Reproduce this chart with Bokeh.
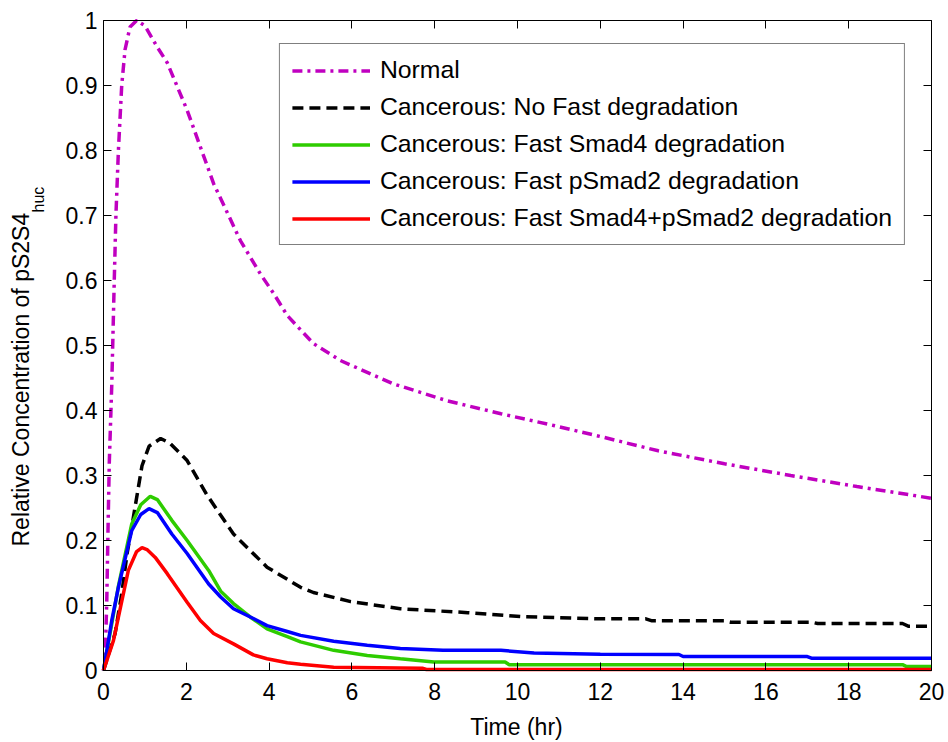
from math import pi
from bokeh.plotting import figure
from bokeh.models import Range1d, LinearAxis, FixedTicker, Legend, LegendItem, Label
from bokeh.embed import file_html
from bokeh.resources import INLINE

# ---------------- data ----------------
x_ticks = [0, 2, 4, 6, 8, 10, 12, 14, 16, 18, 20]
y_ticks = [0.0, 0.1, 0.2, 0.3, 0.4, 0.5, 0.6, 0.7, 0.8, 0.9, 1.0]
y_tick_labels = ["0", "0.1", "0.2", "0.3", "0.4", "0.5", "0.6", "0.7", "0.8", "0.9", "1"]

x_title = "Time (hr)"
y_title = "Relative Concentration of pS2S4"
y_title_sub = "huc"

series_names = [
    "Normal",
    "Cancerous: No Fast degradation",
    "Cancerous: Fast Smad4 degradation",
    "Cancerous: Fast pSmad2 degradation",
    "Cancerous: Fast Smad4+pSmad2 degradation",
]

t_normal = [0, 0.04, 0.08, 0.11, 0.14, 0.2, 0.26, 0.3, 0.36, 0.44, 0.52, 0.64, 0.8, 1.0,
            1.29, 1.54, 2.02, 2.66, 3.31, 3.79, 4.11, 4.44, 5.07, 5.72, 7.0, 8.3, 9.6,
            10.87, 12.0, 13.4, 15.0, 16.6, 18.2, 20.0]
y_normal = [0, 0.015, 0.11, 0.22, 0.32, 0.44, 0.6, 0.7, 0.8, 0.9, 0.955, 0.99, 1.0, 0.992,
            0.96, 0.935, 0.862, 0.749, 0.661, 0.61, 0.58, 0.546, 0.503, 0.477, 0.441, 0.415, 0.395,
            0.377, 0.36, 0.338, 0.318, 0.3, 0.283, 0.265]

t_nofast = [0, 0.28, 0.44, 0.57, 0.68, 0.93, 1.1, 1.38, 1.6, 2.02, 2.5, 3.14, 3.95, 4.76,
            5.07, 5.97, 7.17, 8.8, 10.07, 12.0, 13.1, 13.25, 15.0, 15.15, 17.1, 17.25,
            19.3, 19.45, 20.0]
y_nofast = [0, 0.057, 0.118, 0.18, 0.22, 0.315, 0.345, 0.357, 0.35, 0.323, 0.27, 0.21, 0.159, 0.128,
            0.12, 0.106, 0.095, 0.089, 0.083, 0.0795, 0.0795, 0.0764, 0.0764, 0.0743, 0.0743, 0.0723,
            0.0723, 0.068, 0.068]

t_smad4 = [0, 0.2, 0.36, 0.68, 0.9, 1.13, 1.3, 1.65, 2.02, 2.54, 2.83, 3.14, 3.55, 3.95, 4.44,
           4.76, 5.56, 6.37, 7.17, 7.98, 9.7, 9.8, 19.3, 19.4, 20.0]
y_smad4 = [0, 0.072, 0.13, 0.225, 0.255, 0.268, 0.263, 0.231, 0.2, 0.154, 0.122, 0.103, 0.082, 0.064, 0.052,
           0.044, 0.031, 0.023, 0.018, 0.013, 0.013, 0.009, 0.009, 0.006, 0.006]

t_psmad2 = [0, 0.2, 0.36, 0.68, 0.9, 1.1, 1.3, 1.65, 2.02, 2.54, 2.83, 3.14, 3.62, 3.95, 4.44,
            4.76, 5.56, 6.37, 7.17, 8.2, 9.6, 10.4, 12.0, 13.9, 14.0, 17.0, 17.1, 20.0]
y_psmad2 = [0, 0.077, 0.128, 0.215, 0.24, 0.249, 0.243, 0.21, 0.18, 0.133, 0.113, 0.095, 0.08, 0.069, 0.06,
            0.054, 0.045, 0.039, 0.034, 0.031, 0.031, 0.027, 0.025, 0.0246, 0.0215, 0.0215, 0.019, 0.019]

t_both = [0, 0.24, 0.36, 0.6, 0.8, 0.93, 1.05, 1.25, 1.54, 2.02, 2.34, 2.66, 3.14, 3.62, 3.95,
          4.44, 4.76, 5.56, 7.7, 7.8, 20.0]
y_both = [0, 0.046, 0.082, 0.154, 0.183, 0.189, 0.186, 0.174, 0.149, 0.105, 0.077, 0.057, 0.041, 0.024, 0.018,
          0.012, 0.0095, 0.005, 0.0036, 0.0015, 0.0015]

FONT = "Liberation Sans"
W, H = 948, 742
# axes box inside the canvas (pixels): left, right, top, bottom
BL, BR, BT, BB = 103, 931, 20, 670
sx = (BR - BL) / (x_ticks[-1] - x_ticks[0])
sy = (BB - BT) / (y_ticks[-1] - y_ticks[0])

p = figure(width=W, height=H, output_backend="svg", toolbar_location=None,
           x_range=Range1d(x_ticks[0] - BL / sx, x_ticks[-1] + (W - BR) / sx),
           y_range=Range1d(y_ticks[0] - (H - BB) / sy, y_ticks[-1] + BT / sy),
           min_border_left=0, min_border_right=0, min_border_top=0, min_border_bottom=0)
p.background_fill_color = "white"
p.border_fill_color = "white"
p.grid.visible = False
p.outline_line_color = None


def style_axis(ax):
    ax.major_tick_in = 8
    ax.major_tick_out = 0
    ax.minor_tick_in = 0
    ax.minor_tick_out = 0
    ax.axis_line_color = "black"
    ax.axis_line_width = 1
    ax.major_tick_line_color = "black"
    ax.major_tick_line_width = 1
    ax.major_label_text_font = FONT
    ax.major_label_text_font_size = "23px"
    ax.major_label_text_color = "black"


xa = p.xaxis[0]
xa.ticker = FixedTicker(ticks=x_ticks)
xa.fixed_location = y_ticks[0]
xa.bounds = (x_ticks[0], x_ticks[-1])
style_axis(xa)
xa.major_label_standoff = 12

ya = p.yaxis[0]
ya.ticker = FixedTicker(ticks=y_ticks)
ya.major_label_overrides = {t: l for t, l in zip(y_ticks, y_tick_labels)}
ya.fixed_location = x_ticks[0]
ya.bounds = (y_ticks[0], y_ticks[-1])
style_axis(ya)
ya.major_label_standoff = 6

# mirrored tick axes (top / right), no labels
top = LinearAxis(ticker=FixedTicker(ticks=x_ticks), fixed_location=y_ticks[-1],
                 bounds=(x_ticks[0], x_ticks[-1]),
                 major_label_overrides={t: "" for t in x_ticks})
style_axis(top)
top.major_label_text_font_size = "0px"
p.add_layout(top, "above")
right = LinearAxis(ticker=FixedTicker(ticks=y_ticks), fixed_location=x_ticks[-1],
                   bounds=(y_ticks[0], y_ticks[-1]),
                   major_label_overrides={t: "" for t in y_ticks})
style_axis(right)
right.major_label_text_font_size = "0px"
p.add_layout(right, "right")

# curves
r_normal = p.line(t_normal, y_normal, line_color="#C000C0", line_width=3.5, line_dash="10 5 3 5")
r_nofast = p.line(t_nofast, y_nofast, line_color="black", line_width=3.5, line_dash="11 6")
r_smad4 = p.line(t_smad4, y_smad4, line_color="#2ECC00", line_width=3.5)
r_psmad2 = p.line(t_psmad2, y_psmad2, line_color="#0000FF", line_width=3.5)
r_both = p.line(t_both, y_both, line_color="#FF0000", line_width=3.5)

renderers = [r_normal, r_nofast, r_smad4, r_psmad2, r_both]
legend = Legend(items=[LegendItem(label=n, renderers=[r]) for n, r in zip(series_names, renderers)],
                location="top_right", margin=43, padding=12, spacing=9,
                glyph_width=78, glyph_height=27, label_height=27, label_width=511,
                label_standoff=10, label_text_font=FONT, label_text_font_size="24.8px",
                label_text_color="black", border_line_color="black", border_line_width=1,
                background_fill_color="white", background_fill_alpha=1.0)
p.add_layout(legend, "center")


# axis titles (screen positions converted to data coordinates)
def dx(px):
    return x_ticks[0] + (px - BL) / sx


def dy(py):
    return y_ticks[0] + (BB - py) / sy


p.add_layout(Label(x=dx(516), y=dy(726), text=x_title, text_align="center",
                   text_baseline="alphabetic", text_font=FONT, text_font_size="23px",
                   text_color="black"))
p.add_layout(Label(x=dx(20), y=dy(546), text=y_title, angle=pi / 2,
                   text_align="left", text_baseline="alphabetic", text_font=FONT,
                   text_font_size="23px", text_color="black"))
p.add_layout(Label(x=dx(38), y=dy(212), text=y_title_sub, angle=pi / 2,
                   text_align="left", text_baseline="alphabetic", text_font=FONT,
                   text_font_size="16px", text_color="black"))

open("out.html", "w").write(file_html(p, INLINE))
